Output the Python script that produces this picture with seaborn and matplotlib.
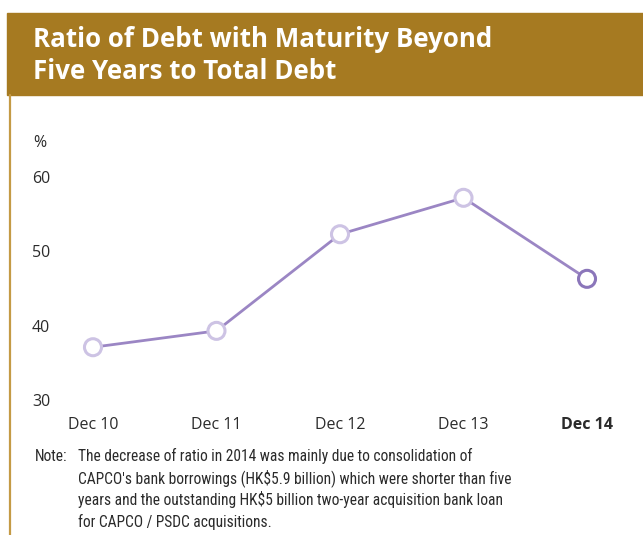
import matplotlib
matplotlib.use("Agg")
import matplotlib.pyplot as plt
import seaborn as sns
import pandas as pd
from matplotlib.patches import Rectangle
from matplotlib.lines import Line2D

# Data
periods = ["Dec 10", "Dec 11", "Dec 12", "Dec 13", "Dec 14"]
ratio_pct = [37.1, 39.3, 52.3, 57.2, 46.3]
y_ticks = [30, 40, 50, 60]

title_lines = ["Ratio of Debt with Maturity Beyond", "Five Years to Total Debt"]
note_label = "Note:"
note_lines = [
    "The decrease of ratio in 2014 was mainly due to consolidation of",
    "CAPCO's bank borrowings (HK$5.9 billion) which were shorter than five",
    "years and the outstanding HK$5 billion two-year acquisition bank loan",
    "for CAPCO / PSDC acquisitions.",
]

GOLD = "#A67A21"
GOLD_LINE = "#C49A45"
LINE_C = "#9B86C4"
MARK_LIGHT = "#CDC3E4"
MARK_DARK = "#8B76BA"
TEXT_C = "#2B2B2B"

sns.set_theme(style="white")
plt.rcParams["font.family"] = ["Open Sans", "DejaVu Sans"]
NOTE_FONT = ["Roboto Condensed", "DejaVu Sans"]

W, H = 643, 535
fig = plt.figure(figsize=(W / 100, H / 100), dpi=100)

def fx(px):
    return px / W

def fy(py):
    return 1 - py / H

# Title band and left border
fig.patches.append(Rectangle((fx(7), fy(95)), fx(643 - 7), (95 - 13) / H,
                             transform=fig.transFigure, color=GOLD, zorder=0))
fig.lines.append(Line2D([fx(9.5), fx(9.5)], [fy(95), fy(535)],
                        transform=fig.transFigure, color=GOLD_LINE, lw=1.6))
for i, line in enumerate(title_lines):
    fig.text(fx(33), fy(47 + 32 * i), line, color="white", fontsize=18.6,
             fontweight="bold", ha="left", va="baseline")

# Chart
ax = fig.add_axes([fx(60), fy(400), fx(620 - 60), (400 - 177) / H])
df = pd.DataFrame({"x": range(len(periods)), "period": periods, "ratio": ratio_pct})
sns.lineplot(data=df, x="x", y="ratio", ax=ax, color=LINE_C, lw=2, zorder=2)
edge_colors = [MARK_LIGHT] * (len(periods) - 1) + [MARK_DARK]
sns.scatterplot(data=df, x="x", y="ratio", ax=ax, s=150, color="white",
                edgecolor=edge_colors, linewidth=2.2, zorder=3, clip_on=False)

ax.set_xlim(-0.267, 4.267)
ax.set_ylim(30, 60)
ax.set_yticks(y_ticks)
ax.set_yticklabels([str(v) for v in y_ticks], fontsize=11.5, color=TEXT_C)
ax.set_xticks(range(len(periods)))
ax.set_xticklabels(periods, fontsize=11.5, color=TEXT_C)
ax.get_xticklabels()[-1].set_fontweight("bold")
ax.tick_params(axis="y", length=0, pad=7)
ax.tick_params(axis="x", length=0, pad=12)
ax.set_xlabel("")
ax.set_ylabel("")
for s in ax.spines.values():
    s.set_visible(False)
ax.patch.set_alpha(0)

fig.text(fx(33), fy(147), "%", fontsize=11.5, color=TEXT_C, ha="left", va="baseline")

# Note
fig.text(fx(35), fy(461), note_label, fontsize=11.2, color=TEXT_C, ha="left",
         va="baseline", family=NOTE_FONT, fontweight="normal")
for i, line in enumerate(note_lines):
    fig.text(fx(78), fy(461 + 22 * i), line, fontsize=11.2, color=TEXT_C,
             ha="left", va="baseline", family=NOTE_FONT, fontweight="normal")

fig.savefig("out.png", dpi=100)
